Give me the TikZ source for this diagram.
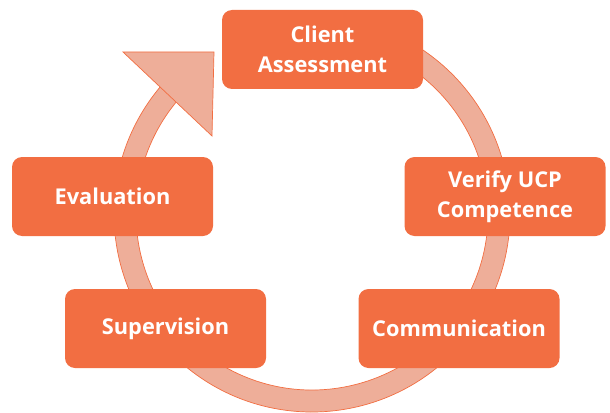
\documentclass[tikz,border=0pt]{standalone}
\usepackage{fontspec}
\setmainfont{Open Sans}
\usepackage{tikz}
\usetikzlibrary{positioning}
\definecolor{boxorange}{RGB}{242,110,66}
\definecolor{ringfill}{RGB}{238,174,153}

\begin{document}
\begin{tikzpicture}[
  stage/.style={rectangle, rounded corners=0.25cm, fill=boxorange, text=white,
    minimum width=5.025cm, minimum height=1.975cm, inner sep=0pt, align=center,
    font=\fontsize{15.5}{21.3}\selectfont\bfseries},
  ring/.style={fill=ringfill, draw=boxorange, line width=0.5pt}]
  \useasboundingbox (0,0) rectangle (15.25,10.3);

  \coordinate (hub) at (7.8,4.95);
  \filldraw[ring, shift={(hub)}] (140:4.95) arc[start angle=140, end angle=460, radius=4.95]
    -- (460:4.4) arc[start angle=460, end angle=140, radius=4.4] -- cycle;
  \filldraw[ring] (3.075,9.0) -- (5.35,9.0) -- (5.3,6.9) -- cycle;

  \node[stage] (assess) at (8.0625,9.0625) {Client\\Assessment};
  \node[stage] (verify) at (12.625,5.3875) {Verify UCP\\Competence};
  \node[stage] (comm)   at (11.475,2.0875) {Communication};
  \node[stage] (superv) at (4.1375,2.0875) {Supervision};
  \node[stage] (evalu)  at (2.8125,5.3875) {Evaluation};
\end{tikzpicture}
\end{document}
